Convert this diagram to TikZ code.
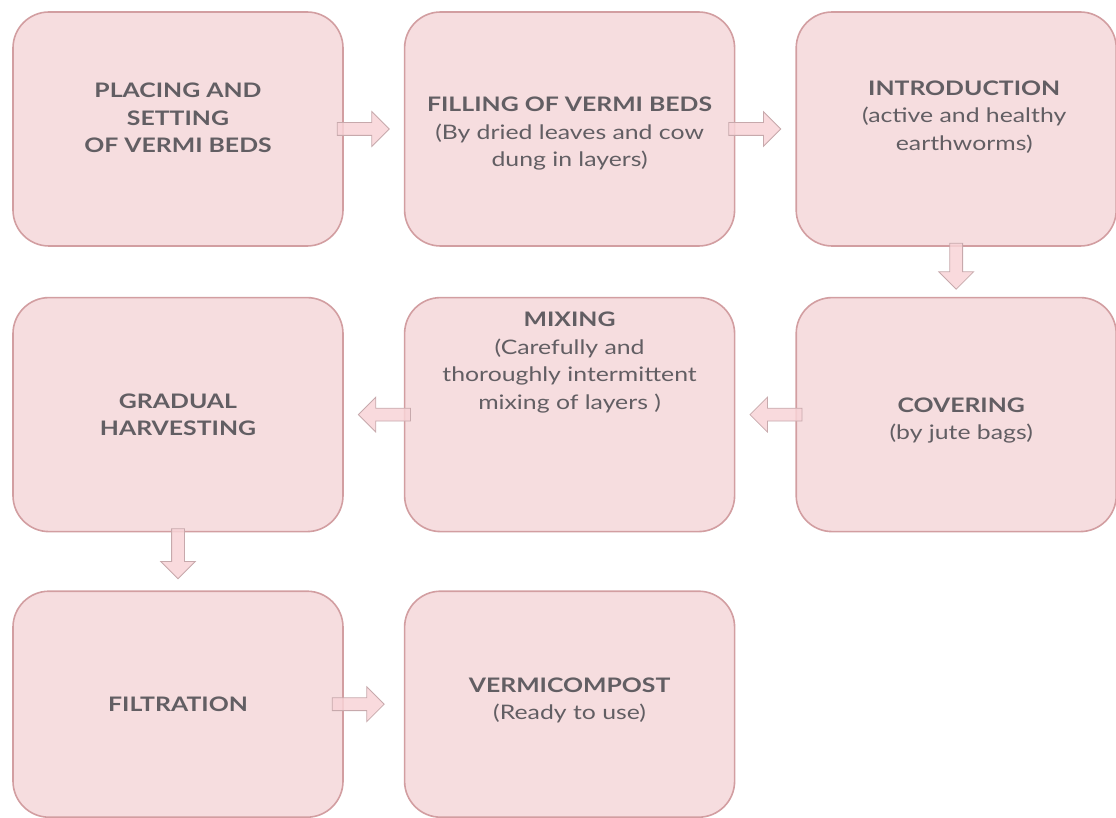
\documentclass[tikz,border=0pt]{standalone}
\usepackage{fontspec}
\setmainfont{Lato}[FakeStretch=1.24]
\usetikzlibrary{positioning,shapes.arrows}
\definecolor{bedfill}{HTML}{F6DDDF}
\definecolor{bedline}{HTML}{D29EA1}
\definecolor{flowfill}{HTML}{F8D3D7}
\definecolor{flowline}{HTML}{C7A9AC}
\definecolor{inkgray}{HTML}{625E63}

\begin{document}
\begin{tikzpicture}[x=1pt,y=-1pt]
    \tikzstyle{stage}=[
      draw=bedline,
      fill=bedfill,
      line width=1.6pt,
      rounded corners=36pt,
      minimum width=330pt,
      minimum height=234pt,
      inner sep=0pt,
    ]
    \tikzstyle{narrow}=[
      minimum width=320pt,
    ]
    \tikzstyle{lowrow}=[
      minimum height=226pt,
    ]
    \tikzstyle{caption}=[
      font=\fontsize{20}{27.5}\selectfont,
      text=inkgray,
      align=center,
    ]
    \tikzstyle{flow}=[
      single arrow,
      draw=flowline,
      fill=flowfill,
      fill opacity=0.85,
      line width=0.8pt,
      minimum height=52pt,
      inner sep=6pt,
      single arrow head extend=11pt,
      anchor=tail,
    ]
    \tikzstyle{flowdown}=[
      flow,
      shape border rotate=270,
      minimum height=46pt,
    ]

    \useasboundingbox (0,0) rectangle (1116,818);

    % steps
    \node[stage] (placing) at (178,129) {};
    \node[stage, right=60pt of placing] (filling) {};
    \node[stage, narrow, right=60pt of filling] (intro) {};
    \node[stage, narrow, below=50pt of intro] (covering) {};
    \node[stage, below=50pt of filling] (mixing) {};
    \node[stage, below=50pt of placing] (gradual) {};
    \node[stage, lowrow, below=58pt of gradual] (filtration) {};
    \node[stage, lowrow, right=60pt of filtration] (vermicompost) {};

    % texts
    \node[caption] (placing text) at ([yshift=11pt]placing.center)
      {\textbf{PLACING AND}\\\textbf{SETTING}\\\textbf{OF VERMI BEDS}};
    \node[caption] (filling text) at ([yshift=-5pt]filling.center)
      {\textbf{FILLING OF VERMI BEDS}\\(By dried leaves and cow\\dung in layers)};
    \node[caption] (intro text) at ([xshift=8pt,yshift=12pt]intro.center)
      {\textbf{INTRODUCTION}\\(active and healthy\\earthworms)};
    \node[caption] (covering text) at ([xshift=5pt,yshift=-6pt]covering.center)
      {\textbf{COVERING}\\(by jute bags)};
    \node[caption] (mixing text) at ([yshift=52pt]mixing.center)
      {\textbf{MIXING}\\(Carefully and\\thoroughly intermittent\\mixing of layers )};
    \node[caption] (gradual text) at (gradual.center)
      {\textbf{GRADUAL}\\\textbf{HARVESTING}};
    \node[caption] (filtration text) at ([yshift=0pt]filtration.center)
      {\textbf{FILTRATION}};
    \node[caption] (vermicompost text) at ([yshift=4pt]vermicompost.center)
      {\textbf{VERMICOMPOST}\\(Ready to use)};

    % arrows
    \node[flow] (placing to filling) at ([xshift=-7pt]placing.east) {};
    \node[flow] (filling to intro) at ([xshift=-7pt]filling.east) {};
    \node[flowdown] (intro to covering) at ([yshift=4pt]intro.south) {};
    \node[flow, shape border rotate=180] (covering to mixing) at ([xshift=7pt]covering.west) {};
    \node[flow, shape border rotate=180] (mixing to gradual) at ([xshift=7pt]mixing.west) {};
    \node[flowdown, minimum height=50pt] (gradual to filtration) at ([yshift=4pt]gradual.south) {};
    \node[flow] (filtration to vermicompost) at ([xshift=-12pt]filtration.east) {};
\end{tikzpicture}
\end{document}
